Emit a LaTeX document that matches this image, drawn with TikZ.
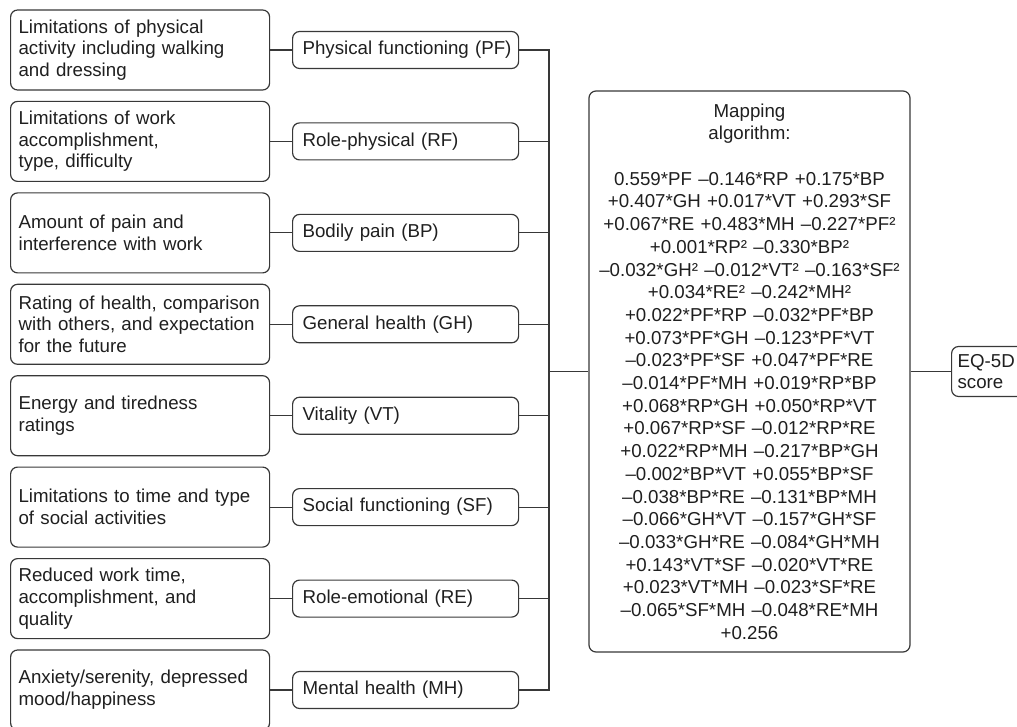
\documentclass[tikz,border=0pt]{standalone}
\usepackage{fontspec}
\setmainfont{Liberation Sans}
\begin{document}
\begin{tikzpicture}[x=1pt,y=-1pt,
  line width=1.2pt,
  every node/.style={text=black!88},
  lbox/.style={draw=black!78,rounded corners=7pt,anchor=west,minimum width=259pt,minimum height=80pt,text width=243pt,inner xsep=8pt,align=left,font=\fontsize{18.7}{21.7}\selectfont},
  mbox/.style={draw=black!78,rounded corners=7pt,anchor=west,minimum width=226pt,minimum height=37pt,text width=216pt,inner xsep=5pt,inner ysep=0pt,align=left,font=\fontsize{18.7}{21.7}\selectfont},
  pbox/.style={draw=black!78,rounded corners=7pt,minimum width=321pt,minimum height=561pt,text width=315pt,inner xsep=3pt,align=center,font=\fontsize{18.7}{22.7}\selectfont},
  ebox/.style={draw=black!78,rounded corners=7pt,anchor=west,minimum width=75pt,minimum height=50pt,text width=63pt,inner xsep=6pt,align=left,font=\fontsize{18.7}{21.7}\selectfont},
  conn/.style={draw=black!78,line width=1.2pt}]
\useasboundingbox (0,0) rectangle (1017,727);
% left boxes
\node[lbox] (l1) at (10,50) {Limitations of physical\\activity including walking\\and dressing};
\node[lbox] (l2) at (10,141.4) {Limitations of work\\accomplishment,\\type, difficulty};
\node[lbox] (l3) at (10,232.9) {Amount of pain and\\interference with work};
\node[lbox] (l4) at (10,324.3) {Rating of health, comparison\\with others, and expectation\\for the future};
\node[lbox] (l5) at (10,415.7) {Energy and tiredness\\ratings};
\node[lbox] (l6) at (10,507.1) {Limitations to time and type\\of social activities};
\node[lbox] (l7) at (10,598.6) {Reduced work time,\\accomplishment, and\\quality};
\node[lbox] (l8) at (10,690) {Anxiety/serenity, depressed\\mood/happiness};
% middle boxes
\node[mbox] (m1) at (292,50) {\hspace*{5pt}Physical functioning (PF)};
\node[mbox] (m2) at (292,141.4) {\hspace*{5pt}Role-physical (RF)};
\node[mbox] (m3) at (292,232.9) {\hspace*{5pt}Bodily pain (BP)};
\node[mbox] (m4) at (292,324.3) {\hspace*{5pt}General health (GH)};
\node[mbox] (m5) at (292,415.7) {\hspace*{5pt}Vitality (VT)};
\node[mbox] (m6) at (292,507.1) {\hspace*{5pt}Social functioning (SF)};
\node[mbox] (m7) at (292,598.6) {\hspace*{5pt}Role-emotional (RE)};
\node[mbox] (m8) at (292,690) {\hspace*{5pt}Mental health (MH)};
% mapping box
\node[pbox] (map) at (749.5,371.5) {Mapping\\algorithm:\\[22.7pt]
0.559*PF –0.146*RP +0.175*BP\\
+0.407*GH +0.017*VT +0.293*SF\\
+0.067*RE +0.483*MH –0.227*PF²\\
+0.001*RP² –0.330*BP²\\
–0.032*GH² –0.012*VT² –0.163*SF²\\
+0.034*RE² –0.242*MH²\\
+0.022*PF*RP –0.032*PF*BP\\
+0.073*PF*GH –0.123*PF*VT\\
–0.023*PF*SF +0.047*PF*RE\\
–0.014*PF*MH +0.019*RP*BP\\
+0.068*RP*GH +0.050*RP*VT\\
+0.067*RP*SF –0.012*RP*RE\\
+0.022*RP*MH –0.217*BP*GH\\
–0.002*BP*VT +0.055*BP*SF\\
–0.038*BP*RE –0.131*BP*MH\\
–0.066*GH*VT –0.157*GH*SF\\
–0.033*GH*RE –0.084*GH*MH\\
+0.143*VT*SF –0.020*VT*RE\\
+0.023*VT*MH –0.023*SF*RE\\
–0.065*SF*MH –0.048*RE*MH\\
+0.256};
% EQ-5D box
\node[ebox] (eq) at (951,371.5) {EQ-5D\\score};
% connectors
\coordinate (bt) at (549,50);
\coordinate (bb) at (549,690);
\foreach \i in {1,...,8} {
  \draw[conn] (l\i.east) -- (m\i.west);
}
\foreach \i in {2,...,7} {
  \draw[conn] (m\i.east) -- (m\i.east -| bt);
}
\draw[conn] (m1.east) -- (bt) -- (bb) -- (m8.east);
\draw[conn] (map.west -| bt) -- (map.west);
\draw[conn] (map.east) -- (eq.west);
\end{tikzpicture}
\end{document}
